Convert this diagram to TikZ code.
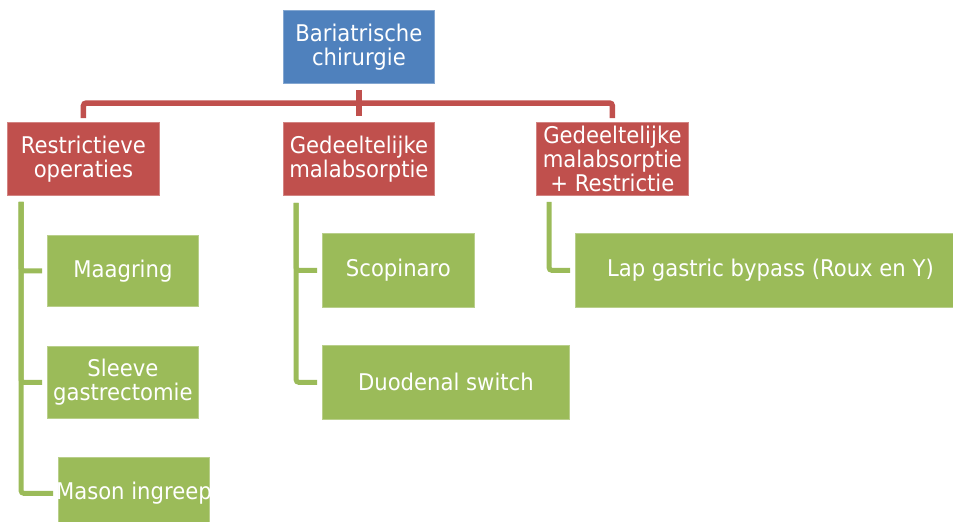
\documentclass[tikz,border=0pt]{standalone}
\usepackage{fontspec}
\setmainfont[FakeStretch=0.92]{DejaVu Sans}
\definecolor{cblue}{HTML}{4F81BD}
\definecolor{cred}{HTML}{C0504D}
\definecolor{cgreen}{HTML}{9BBB59}
\begin{document}
\begin{tikzpicture}[x=1pt,y=-1pt,
  basebox/.style={anchor=north west, inner sep=0pt, text=white, align=center,
    font=\fontsize{23}{24}\selectfont, line width=0.8pt},
  bbox/.style={basebox, fill=cblue, draw=cblue!70!white},
  rbox/.style={basebox, fill=cred, draw=cred!70!white},
  gbox/.style={basebox, fill=cgreen, draw=cgreen!70!white},
  rline/.style={draw=cred, line width=5.5pt, rounded corners=3pt},
  gline/.style={draw=cgreen, line width=5pt, rounded corners=3pt}]
\useasboundingbox (0,0) rectangle (953,522);
\clip (0,0) rectangle (953,522);
% top
\node[bbox, minimum width=151, minimum height=73] (top) at (283,10) {Bariatrische\\chirurgie};
% second level
\node[rbox, minimum width=152, minimum height=73] (r1) at (7,122) {Restrictieve\\operaties};
\node[rbox, minimum width=151, minimum height=73] (r2) at (283,122) {Gedeeltelijke\\malabsorptie};
\node[rbox, minimum width=152, minimum height=73] (r3) at (536,122) {Gedeeltelijke\\malabsorptie\\+ Restrictie};
% leaves
\node[gbox, minimum width=151, minimum height=71] (g1) at (47,235) {Maagring};
\node[gbox, minimum width=151, minimum height=72] (g2) at (47,346) {Sleeve\\gastrectomie};
\node[gbox, minimum width=151, minimum height=72] (g3) at (58,457) {\makebox[151pt][c]{Mason ingreep}};
\node[gbox, minimum width=152, minimum height=74] (g4) at (322,233) {Scopinaro};
\node[gbox, minimum width=247, minimum height=74] (g5) at (322,345) {Duodenal switch};
\node[gbox, minimum width=390, minimum height=74] (g6) at (575,233) {Lap gastric bypass (Roux en Y)};
% red connectors
\coordinate (bus) at (358.5,103);
\draw[rline] ([yshift=-6]top.south) -- ([yshift=6]r2.north);
\draw[rline] ([yshift=4]r1.north) |- (bus) -| ([yshift=4]r3.north);
% green connectors
\coordinate (s1) at ([xshift=14,yshift=-6]r1.south west);
\coordinate (s2) at ([xshift=13,yshift=-7]r2.south west);
\coordinate (s3) at ([xshift=13,yshift=-6]r3.south west);
\draw[gline] (s1) |- ([xshift=-5]g3.west);
\draw[gline] (s1) |- ([xshift=-5]g1.west);
\draw[gline] (s1) |- ([xshift=-5]g2.west);
\draw[gline] (s2) |- ([xshift=-5]g5.west);
\draw[gline] (s2) |- ([xshift=-5]g4.west);
\draw[gline] (s3) |- ([xshift=-5]g6.west);
\end{tikzpicture}
\end{document}
